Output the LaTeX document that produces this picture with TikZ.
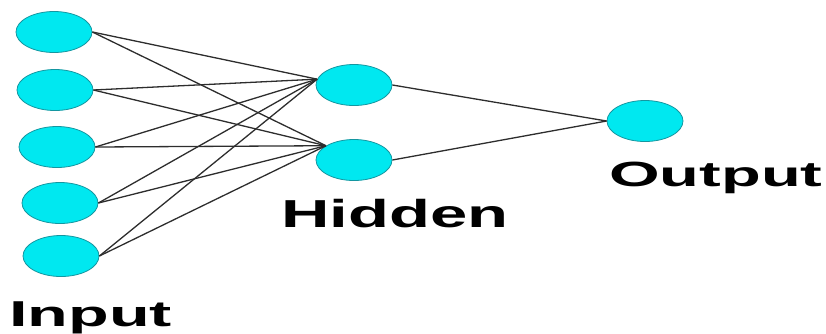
\documentclass[tikz,border=0pt]{standalone}
\usepackage{fontspec}
\setmainfont{Liberation Sans}
\usetikzlibrary{shapes.geometric}
\definecolor{neuronfill}{RGB}{0,232,240}
\definecolor{neurondraw}{RGB}{20,150,160}
\definecolor{wire}{RGB}{45,45,45}
\tikzset{
  neuron/.style={ellipse, draw=neurondraw, line width=0.8pt, fill=neuronfill,
    minimum width=76pt, minimum height=41pt, inner sep=0pt},
  link/.style={draw=wire, line width=1.3pt},
  lbl/.style={inner sep=0pt, anchor=base west, font=\bfseries}
}
\begin{document}
\begin{tikzpicture}[x=1pt,y=-1pt]
\useasboundingbox (0,0) rectangle (826,333);
\node[neuron] (i1) at (54,32) {};
\node[neuron] (i2) at (55,90) {};
\node[neuron] (i3) at (57,147) {};
\node[neuron] (i4) at (60,203) {};
\node[neuron] (i5) at (61,256) {};
\node[neuron] (h1) at (354,85) {};
\node[neuron] (h2) at (354,160) {};
\node[neuron] (o) at (645,121) {};
\foreach \i in {1,...,5}{
  \draw[link] (i\i.east) -- (h1.171);
  \draw[link] (i\i.east) -- (h2.153);
}
\draw[link] (h1.east) -- (o.west);
\draw[link] (h2.east) -- (o.west);
\node[lbl] (tin) at (9,326) {\fontsize{36}{40}\selectfont\scalebox{1.85}[1]{Input}};
\node[lbl] (thid) at (281,227) {\fontsize{39}{44}\selectfont\scalebox{1.72}[1]{Hidden}};
\node[lbl] (tout) at (609,186) {\fontsize{35}{40}\selectfont\scalebox{1.86}[1]{Output}};
\end{tikzpicture}
\end{document}
